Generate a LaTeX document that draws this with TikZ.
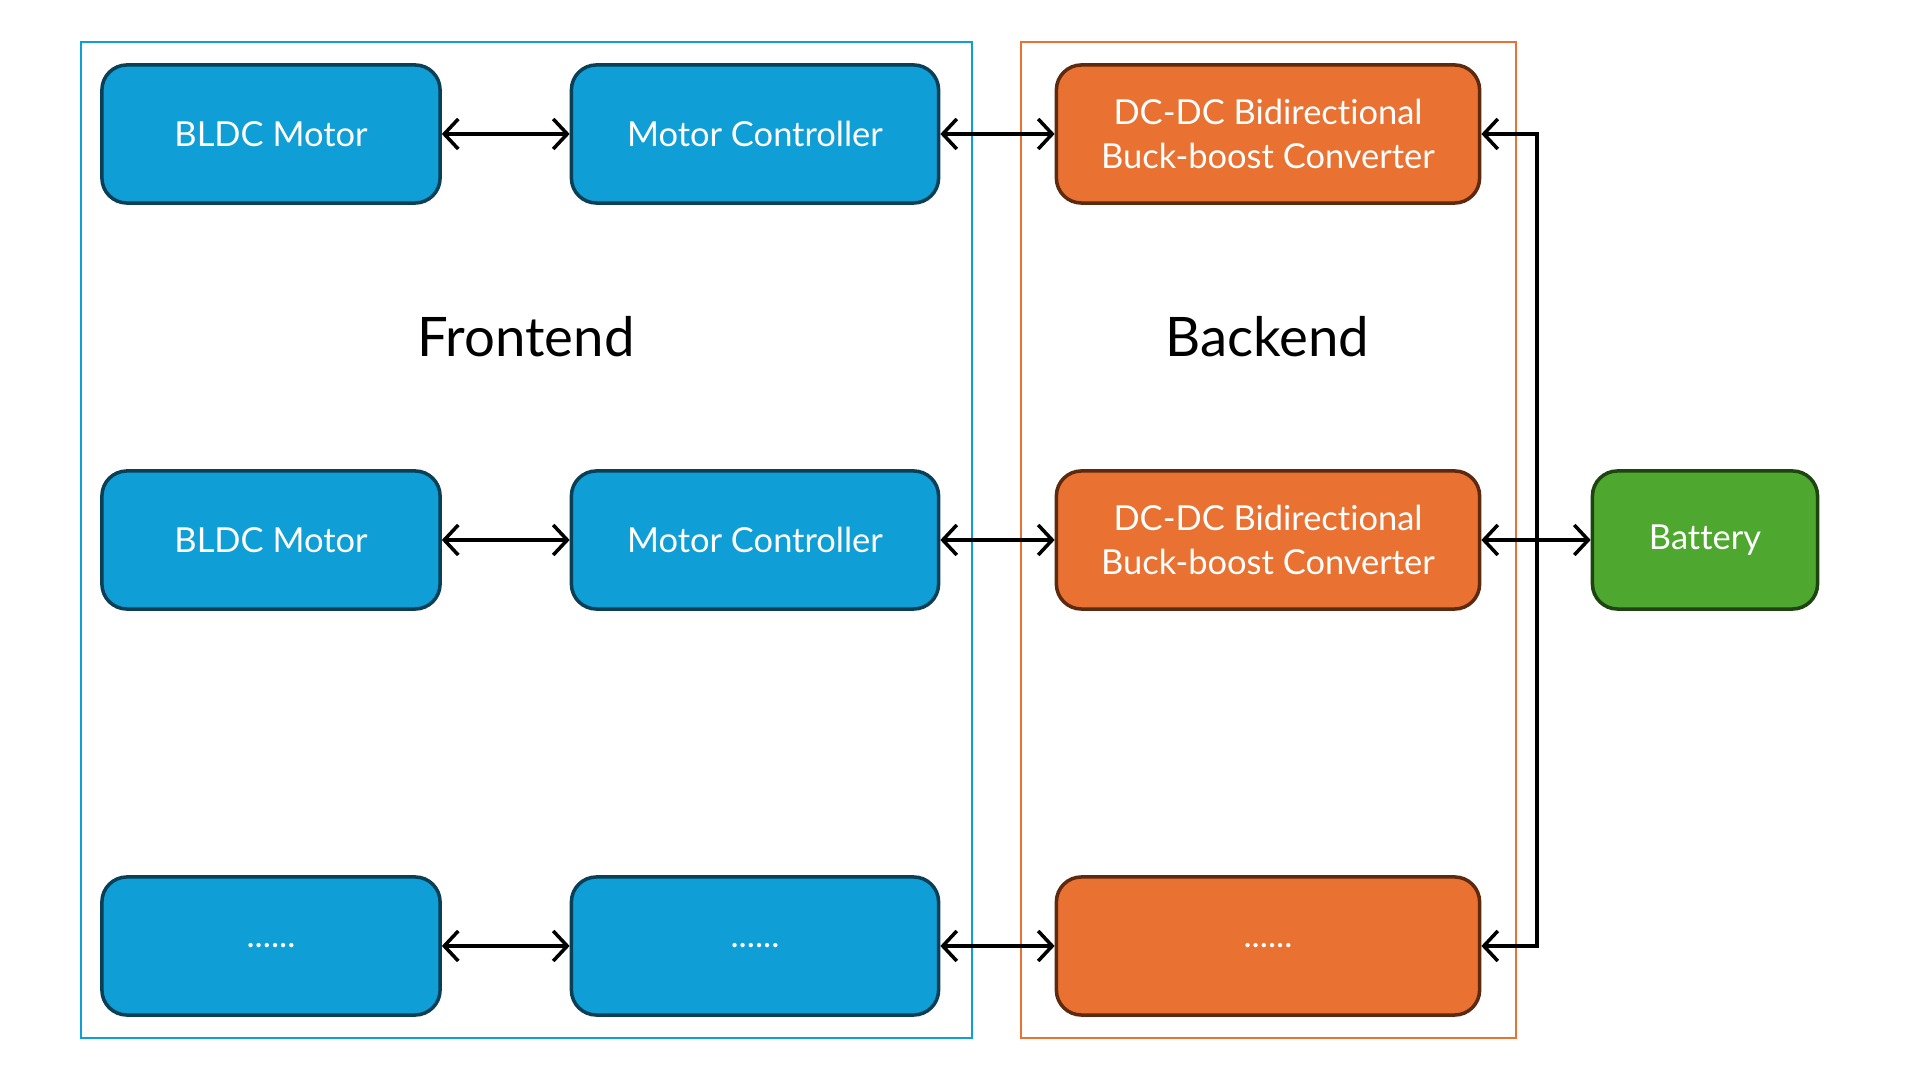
\documentclass[tikz,border=0pt]{standalone}
\usepackage{fontspec}
\setmainfont[Ligatures=NoCommon]{Lato}
\usetikzlibrary{arrows.meta}
\definecolor{frontblue}{HTML}{0F9ED5}
\definecolor{frontdark}{HTML}{0A3F56}
\definecolor{backorange}{HTML}{E97132}
\definecolor{backdark}{HTML}{5E2A0F}
\definecolor{battgreen}{HTML}{4EA72E}
\definecolor{battdark}{HTML}{1E4412}

\begin{document}
\begin{tikzpicture}[x=0.01cm,y=-0.01cm,
  block/.style={rounded corners=0.25cm,line width=1pt,text=white,align=center,
    font=\fontsize{9.8}{12.3}\selectfont,minimum height=1.38cm},
  motor/.style={block,fill=frontblue,draw=frontdark,minimum width=3.38cm},
  ctrl/.style={block,fill=frontblue,draw=frontdark,minimum width=3.67cm},
  conv/.style={block,fill=backorange,draw=backdark,minimum width=4.23cm},
  link/.style={line width=1pt,{Straight Barb[length=1.4mm,width=3mm]}-{Straight Barb[length=1.4mm,width=3mm]}}]
\useasboundingbox (0,0) rectangle (1920,1080);
%%%%%%%%%%%%%%%%
\draw [frontblue,line width=0.8pt] (81,42) rectangle (972,1038);
\node[font=\fontsize{15.5}{18}\selectfont] (front) at (526,337) {Frontend};
\draw [backorange,line width=0.8pt] (1021,42) rectangle (1516,1038);
\node[font=\fontsize{15.5}{18}\selectfont] (back) at (1267,337) {Backend};
%%%%%%%%%%%%%%%%
\node[motor] (m1) at (271,134) {BLDC Motor};
\node[ctrl] (c1) at (755,134) {Motor Controller};
\node[conv] (d1) at (1268,134) {DC-DC Bidirectional\\Buck-boost Converter};
%%%%%%%%%%%%%%%%
\node[motor] (m2) at (271,540) {BLDC Motor};
\node[ctrl] (c2) at (755,540) {Motor Controller};
\node[conv] (d2) at (1268,540) {DC-DC Bidirectional\\Buck-boost Converter};
%%%%%%%%%%%%%%%%
\node[motor] (m3) at (271,946) {......};
\node[ctrl] (c3) at (755,946) {......};
\node[conv] (d3) at (1268,946) {......};
%%%%%%%%%%%%%%%%
\node[block,fill=battgreen,draw=battdark,minimum width=2.25cm] (bat) at (1705,540) {Battery};
\coordinate (bus) at (1537,540);
%%%%%%%%%%%%%%%%
\draw [link] (m1) -- (c1);
\draw [link] (c1) -- (d1);
\draw [link] (m2) -- (c2);
\draw [link] (c2) -- (d2);
\draw [link] (m3) -- (c3);
\draw [link] (c3) -- (d3);
\draw [link] (d1.east) -- (d1.east -| bus) -- (d3.east -| bus) -- (d3.east);
\draw [link] (d2) -- (bat);
\end{tikzpicture}
\end{document}
